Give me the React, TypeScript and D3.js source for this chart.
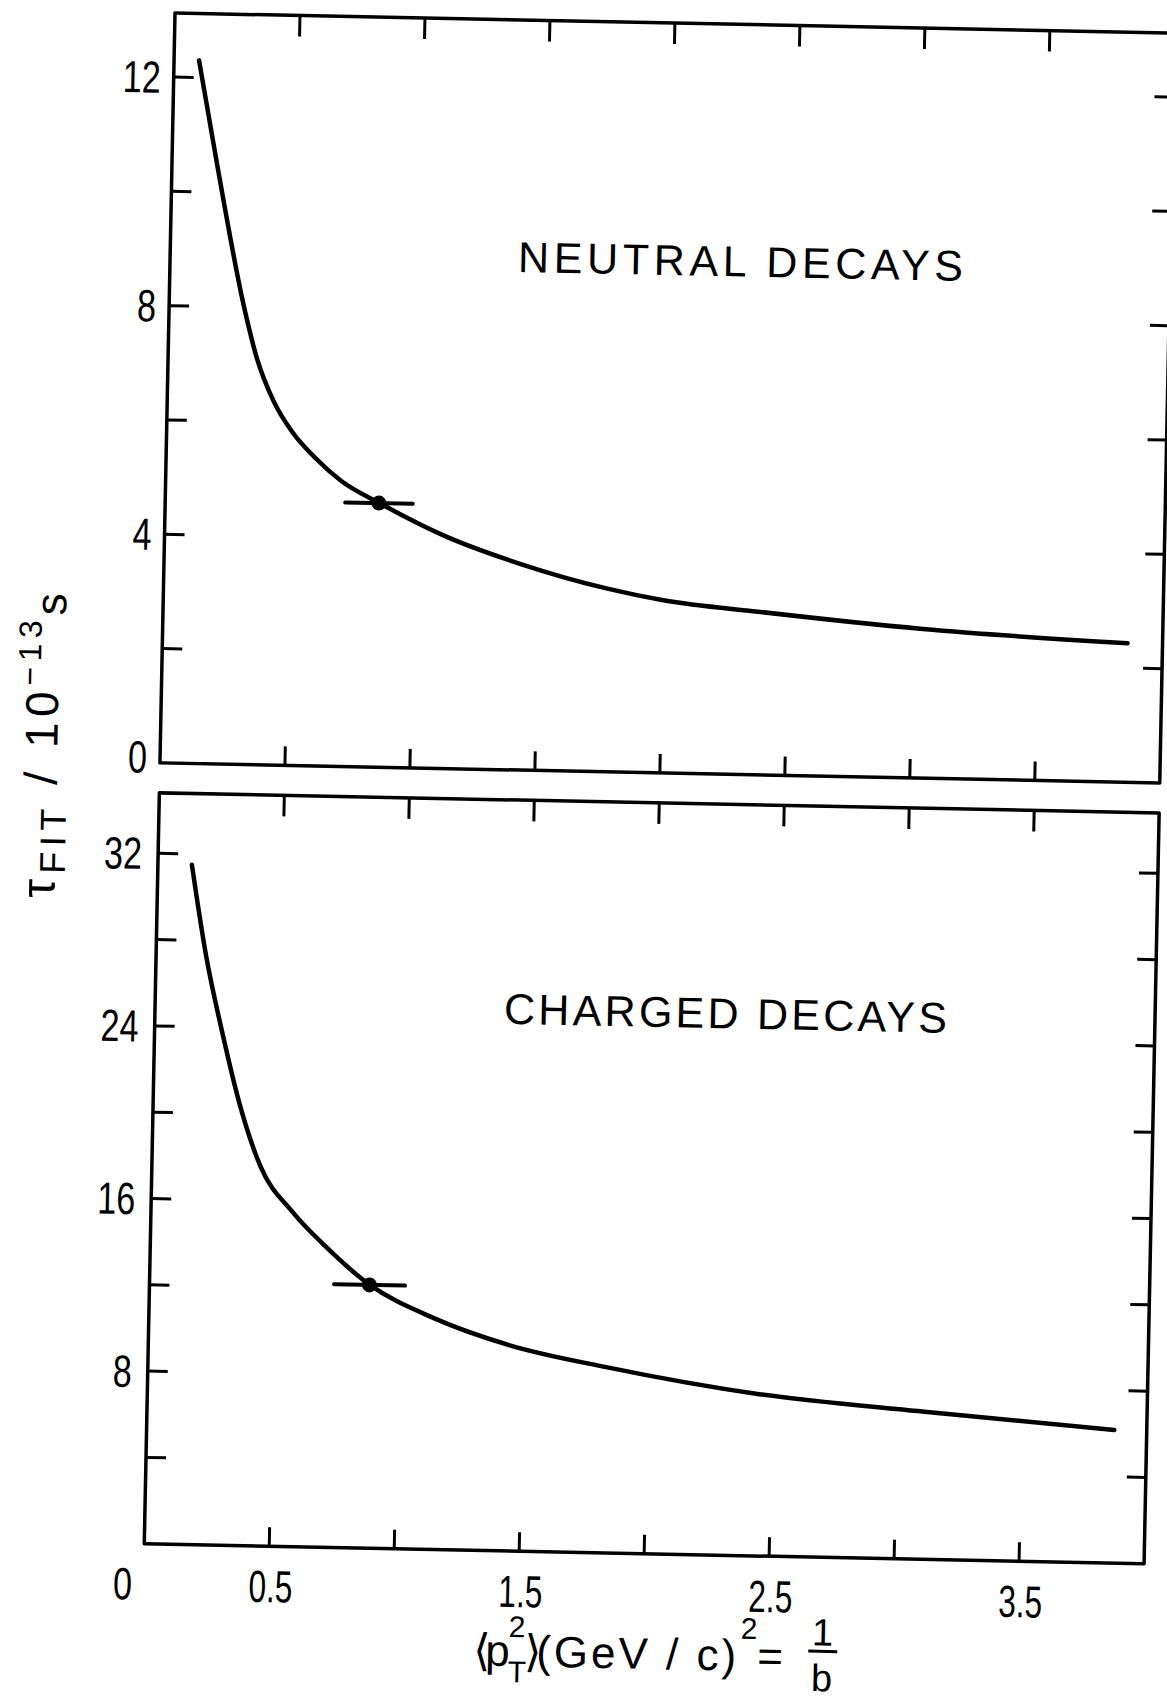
import React from 'react';
import * as d3 from 'd3';

// ---- data ----
const xTickValues = [0.5, 1, 1.5, 2, 2.5, 3, 3.5];
const xLabelValues = [0.5, 1.5, 2.5, 3.5];

const neutralYTicks = [2, 4, 6, 8, 10, 12];
const neutralYLabels = [0, 4, 8, 12];
const chargedYTicks = [4, 8, 12, 16, 20, 24, 28, 32];
const chargedYLabels = [8, 16, 24, 32];

const neutralCurveX = [0.10, 0.18, 0.30, 0.356, 0.424, 0.505, 0.594, 0.704, 0.853, 1.12, 1.43, 1.78, 2.0, 2.39, 3.04, 3.86];
const neutralCurveY = [12.3, 10.5, 8.0, 7.1, 6.38, 5.82, 5.4, 4.99, 4.63, 4.07, 3.6, 3.2, 3.02, 2.85, 2.61, 2.43];

const chargedCurveX = [0.136, 0.2, 0.27, 0.35, 0.434, 0.567, 0.70, 0.88, 1.14, 1.446, 1.838, 2.447, 3.10, 3.87];
const chargedCurveY = [31.5, 27.3, 23.8, 20.3, 17.6, 15.5, 13.95, 12.21, 10.72, 9.53, 8.6, 7.5, 6.85, 6.17];

const neutralPointX = [0.855];
const neutralPointY = [4.62];
const neutralPointXErr = [0.135];
const chargedPointX = [0.88];
const chargedPointY = [12.2];
const chargedPointXErr = [0.142];

const FONT = "'Liberation Sans', 'DejaVu Sans', Arial, sans-serif";

export default function App() {
  const W = 1167;
  const H = 1700;
  const x = d3.scaleLinear().domain([0, 4]).range([175, 1175]);
  const yTop = d3.scaleLinear().domain([0, 13.12]).range([763, 13]);
  const yBot = d3.scaleLinear().domain([0, 34.8]).range([1544, 793]);
  const TL = 19;

  const mkLine = (ys: d3.ScaleLinear<number, number>) =>
    d3
      .line<[number, number]>()
      .x((d) => x(d[0]))
      .y((d) => ys(d[1]))
      .curve(d3.curveMonotoneX);

  const neutralData: [number, number][] = neutralCurveX.map((v, i) => [v, neutralCurveY[i]]);
  const chargedData: [number, number][] = chargedCurveX.map((v, i) => [v, chargedCurveY[i]]);

  const panel = (
    ys: d3.ScaleLinear<number, number>,
    yTicks: number[],
    data: [number, number][],
    px: number[],
    py: number[],
    pe: number[],
    key: string
  ) => {
    const [y0, y1] = ys.range();
    const top = Math.min(y0, y1);
    const bot = Math.max(y0, y1);
    const left = x(0);
    const right = x(4);
    return (
      <g key={key}>
        <rect x={left} y={top} width={right - left} height={bot - top} fill="none" stroke="#000" strokeWidth={3.5} strokeLinejoin="round" />
        {xTickValues.map((v) => (
          <g key={'xt' + v}>
            <line x1={x(v)} x2={x(v)} y1={bot} y2={bot - TL} stroke="#000" strokeWidth={3} />
            <line x1={x(v)} x2={x(v)} y1={top} y2={top + TL + 2} stroke="#000" strokeWidth={3} />
          </g>
        ))}
        {yTicks.map((v) => (
          <g key={'yt' + v}>
            <line x1={left} x2={left + TL + 1} y1={ys(v)} y2={ys(v)} stroke="#000" strokeWidth={3} />
            <line x1={right} x2={right - TL} y1={ys(v)} y2={ys(v)} stroke="#000" strokeWidth={3} />
          </g>
        ))}
        <path d={mkLine(ys)(data) || ''} fill="none" stroke="#000" strokeWidth={4.5} strokeLinecap="round" strokeLinejoin="round" />
        {px.map((v, i) => (
          <g key={'p' + i}>
            <line x1={x(v - pe[i])} x2={x(v + pe[i])} y1={ys(py[i])} y2={ys(py[i])} stroke="#000" strokeWidth={4} strokeLinecap="round" />
            <circle cx={x(v)} cy={ys(py[i])} r={7.5} fill="#000" />
          </g>
        ))}
      </g>
    );
  };

  const labelStyle = { fontFamily: FONT, fontSize: 45, fill: '#000' } as const;

  return (
    <svg width={W} height={H} style={{ position: 'absolute', left: 0, top: 0, background: '#fff' }}>
      <rect x={0} y={0} width={W} height={H} fill="#fff" />
      <g transform="rotate(1.15, 174, 13)">
        {panel(yTop, neutralYTicks, neutralData, neutralPointX, neutralPointY, neutralPointXErr, 'top')}
        {panel(yBot, chargedYTicks, chargedData, chargedPointX, chargedPointY, chargedPointXErr, 'bot')}

        {/* y tick labels */}
        {neutralYLabels.map((v) => (
          <text key={'nl' + v} x={162} y={yTop(v) + 16 + (v === 0 ? -6 : 0)} textAnchor="end" style={labelStyle}
            textLength={String(v).length === 2 ? 38 : 19} lengthAdjust="spacingAndGlyphs">
            {v}
          </text>
        ))}
        {chargedYLabels.map((v) => (
          <text key={'cl' + v} x={159} y={yBot(v) + 16} textAnchor="end" style={labelStyle}
            textLength={String(v).length === 2 ? 38 : 19} lengthAdjust="spacingAndGlyphs">
            {v}
          </text>
        ))}

        {/* x tick labels */}
        {xLabelValues.map((v) => (
          <text key={'xl' + v} x={x(v) + 2} y={1600} textAnchor="middle" style={labelStyle}
            textLength={44} lengthAdjust="spacingAndGlyphs">
            {String(v)}
          </text>
        ))}
        <text x={x(0) - 21} y={1600} textAnchor="middle" style={labelStyle} textLength={19} lengthAdjust="spacingAndGlyphs">0</text>

        {/* panel titles */}
        <text x={523} y={265} style={{ ...labelStyle, fontSize: 43 }} textLength={445} lengthAdjust="spacing">NEUTRAL DECAYS</text>
        <text x={524} y={1017} style={{ ...labelStyle, fontSize: 43 }} textLength={443} lengthAdjust="spacing">CHARGED DECAYS</text>

        {/* y axis title */}
        <text transform="translate(72, 748) rotate(-90)" textAnchor="middle" style={{ fontFamily: FONT, fill: '#000' }}
          textLength={305} lengthAdjust="spacing">
          <tspan fontSize={48}>τ</tspan>
          <tspan fontSize={36} dy={10}>FIT</tspan>
          <tspan fontSize={46} dy={-10}> / 10</tspan>
          <tspan fontSize={32} dy={-18}>−13</tspan>
          <tspan fontSize={44} dy={24}>s</tspan>
        </text>

        {/* x axis title */}
        <g style={{ fontFamily: FONT, fill: '#000' }}>
          <text x={506} y={1659} fontSize={44}>⟨</text>
          <text x={518} y={1659} fontSize={44}>p</text>
          <text x={541} y={1630} fontSize={30}>2</text>
          <text x={541} y={1675} fontSize={30}>T</text>
          <text x={557} y={1659} fontSize={44}>⟩</text>
          <text x={569} y={1659} fontSize={44} textLength={200} lengthAdjust="spacing">(GeV / c)</text>
          <text x={773} y={1627} fontSize={30}>2</text>
          <text x={803} y={1659} fontSize={44} textAnchor="middle">=</text>
          <text x={855} y={1632} fontSize={38} textAnchor="middle">1</text>
          <line x1={841} x2={870} y1={1638} y2={1638} stroke="#000" strokeWidth={3} />
          <text x={855} y={1678} fontSize={38} textAnchor="middle">b</text>
        </g>
      </g>
    </svg>
  );
}
